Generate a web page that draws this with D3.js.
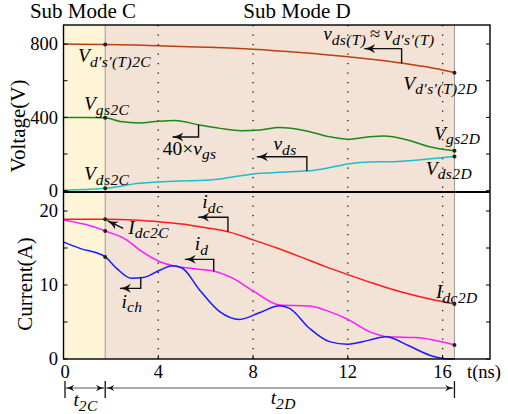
<!DOCTYPE html>
<html><head><meta charset="utf-8">
<script src="https://cdn.jsdelivr.net/npm/d3@7/dist/d3.min.js"></script>
<style>body{margin:0;background:#fff}svg{display:block}text{font-family:"Liberation Serif",serif}</style>
</head><body><svg id="c" width="508" height="414"></svg>
<script>
// ---------- data ----------
const xTicks = [0, 4, 8, 12, 16];
const vTicksMajor = [0, 400, 800];
const vTicksMinor = [200, 600];
const iTicksMajor = [0, 10, 20];
const iTicksMinor = [5, 15];
const tModeC = 1.76, tEnd = 16.5;

const tVdsT = [0, 1.76, 3, 4, 6, 8, 10, 12, 13, 14, 15, 16, 16.5];
const vVdsT = [800, 798, 795, 791, 783, 772, 754, 731, 717, 701, 682, 659, 644];

const tVgs = [0, 1.0, 1.76, 2.4, 3.2, 4.0, 4.7, 5.75, 6.6, 7.5, 8.3, 9.1, 9.6, 10.4, 11.2, 12.0, 12.9, 13.5, 14.6, 15.4, 16.5];
const vVgs = [400, 400, 398, 378, 370, 379, 383, 358, 340, 327, 331, 345, 341, 322, 295, 281, 294, 298, 274, 241, 218];

const tVds = [0, 0.9, 1.76, 3.2, 4.9, 5.75, 6.6, 7.4, 8.3, 9.1, 10.0, 10.4, 11.2, 12.0, 12.9, 13.75, 14.6, 15.4, 16.5];
const vVds = [2, 7, 13, 40, 53, 55, 64, 80, 95, 100, 106, 109, 125, 146, 157, 158, 164, 173, 186];

const tIdc = [0, 1.76, 3, 4, 5, 6, 7, 8, 9, 10, 11, 12, 13, 14, 15, 16, 16.5];
const iIdc = [18.9, 18.9, 18.8, 18.55, 18.25, 17.75, 17.15, 16.1, 15.0, 13.8, 12.55, 11.4, 10.3, 9.3, 8.45, 7.75, 7.45];

const tId = [0, 0.9, 1.76, 2.66, 3.22, 4.06, 4.62, 5.47, 6.31, 7.15, 8.0, 9.12, 10.38, 11.22, 12, 12.9, 13.75, 14.87, 16.5];
const iId = [18.8, 18.2, 17.3, 16.1, 14.7, 13.15, 12.6, 12.2, 11.9, 10.9, 9.2, 7.3, 7.15, 6.4, 5.35, 3.7, 3.0, 2.9, 1.9];

const tIch = [0, 0.69, 1.76, 2.24, 2.87, 3.36, 4.06, 4.6, 5.0, 5.75, 6.59, 7.43, 8.27, 9.12, 9.54, 10.38, 11.22, 12, 12.9, 13.6, 14.6, 15.43, 16.1, 16.5];
const iIch = [15.8, 14.95, 13.8, 12.25, 10.9, 11.0, 12.0, 12.6, 12.3, 9.3, 6.4, 5.35, 6.25, 7.2, 6.85, 4.15, 2.35, 2.0, 2.55, 3.0, 1.75, 0.55, 0.05, 0];

// ---------- layout ----------
const svg = d3.select("#c");
const L = 63.5, R = 490, T = 25, M = 192, B = 359;
const x = d3.scaleLinear().domain([0, 18]).range([L, R]);
const yV = d3.scaleLinear().domain([-7.1, 904]).range([M, T]);
const yI = d3.scaleLinear().domain([0, 22.57]).range([B, M]);

const defs = svg.append("defs");
defs.append("marker").attr("id", "ah").attr("viewBox", "0 -5 12 10")
  .attr("refX", 11).attr("refY", 0).attr("markerWidth", 12).attr("markerHeight", 10)
  .attr("markerUnits", "userSpaceOnUse").attr("orient", "auto")
  .append("path").attr("d", "M0,-4.5 Q5,-1 11,0 Q5,1 0,4.5 L3,0 Z").attr("fill", "#111");
defs.append("marker").attr("id", "ahs").attr("viewBox", "0 -5 12 10")
  .attr("refX", 11).attr("refY", 0).attr("markerWidth", 9).attr("markerHeight", 8)
  .attr("markerUnits", "userSpaceOnUse").attr("orient", "auto-start-reverse")
  .append("path").attr("d", "M0,-4.5 Q5,-1 11,0 Q5,1 0,4.5 L3,0 Z").attr("fill", "#111");

// backgrounds
[[yV, T, M], [yI, M, B]].forEach(([ys, top, bot]) => {
  svg.append("rect").attr("x", x(0)).attr("y", top).attr("width", x(tModeC) - x(0)).attr("height", bot - top).attr("fill", "#fef4d7");
  svg.append("rect").attr("x", x(tModeC)).attr("y", top).attr("width", x(tEnd) - x(tModeC)).attr("height", bot - top).attr("fill", "#f2e3d6");
});
// gray boundaries
[tModeC, tEnd].forEach(t => svg.append("line").attr("x1", x(t)).attr("x2", x(t)).attr("y1", T).attr("y2", B).attr("stroke", "#9a9a9a").attr("stroke-width", 1));
// dotted grid
xTicks.filter(t => t > 0).forEach(t => svg.append("line").attr("x1", x(t)).attr("x2", x(t)).attr("y1", T).attr("y2", B)
  .attr("stroke", "#111").attr("stroke-width", 1.3).attr("stroke-dasharray", "1.3,8.2"));

// curves
const mk = (ts, vs) => ts.map((t, i) => [t, vs[i]]);
function curve(data, ys, color) {
  svg.append("path").datum(data).attr("fill", "none").attr("stroke", color).attr("stroke-width", 1.5)
    .attr("d", d3.line().x(d => x(d[0])).y(d => ys(d[1])).curve(d3.curveMonotoneX));
}
const sVdsT = mk(tVdsT, vVdsT), sVgs = mk(tVgs, vVgs), sVds = mk(tVds, vVds);
const sIdc = mk(tIdc, iIdc), sId = mk(tId, iId), sIch = mk(tIch, iIch);
curve(sVdsT, yV, "#b8410f");
curve(sVgs, yV, "#1a8a1a");
curve(sVds, yV, "#17c0cc");
curve(sIdc, yI, "#ff1a1a");
curve(sId, yI, "#ff1aff");
curve(sIch, yI, "#1a1aff");

function at(s, t) { const ts = s.map(d => d[0]), vs = s.map(d => d[1]); const i = d3.bisectLeft(ts, t); if (i <= 0) return vs[0]; if (i >= ts.length) return vs[vs.length-1]; const f = (t - ts[i-1]) / (ts[i] - ts[i-1]); return vs[i-1] + f * (vs[i] - vs[i-1]); }

// dots
[[sVdsT, yV], [sVgs, yV], [sVds, yV], [sIdc, yI], [sId, yI], [sIch, yI]].forEach(([s, ys], k) => {
  [tModeC, tEnd].forEach(t => {
    if (k === 5 && t === tEnd) return;
    svg.append("circle").attr("cx", x(t)).attr("cy", ys(at(s, t))).attr("r", 2).attr("fill", "#222");
  });
});

// frames
svg.append("rect").attr("x", L).attr("y", T).attr("width", R - L).attr("height", B - T).attr("fill", "none").attr("stroke", "#000").attr("stroke-width", 1.4);
svg.append("line").attr("x1", L).attr("x2", R).attr("y1", M).attr("y2", M).attr("stroke", "#000").attr("stroke-width", 2.2);

// ticks
const tk = 4;
function yTicks(ys, maj, min) {
  maj.concat(min).forEach(v => {
    svg.append("line").attr("x1", L).attr("x2", L + tk).attr("y1", ys(v)).attr("y2", ys(v)).attr("stroke", "#000");
    svg.append("line").attr("x1", R).attr("x2", R - tk).attr("y1", ys(v)).attr("y2", ys(v)).attr("stroke", "#000");
  });
  maj.forEach(v => svg.append("text").attr("x", 58).attr("y", ys(v)).attr("dy", "0.34em").attr("text-anchor", "end").attr("font-size", 18.5).text(v));
}
yTicks(yV, vTicksMajor, vTicksMinor);
yTicks(yI, iTicksMajor, iTicksMinor);
xTicks.forEach(t => {
  svg.append("line").attr("x1", x(t)).attr("x2", x(t)).attr("y1", B).attr("y2", B - tk).attr("stroke", "#000");
  svg.append("text").attr("x", x(t) + (t === 0 ? 1.5 : 0)).attr("y", 378).attr("text-anchor", "middle").attr("font-size", 18.5).text(t);
});
svg.append("text").attr("x", 467).attr("y", 378).attr("font-size", 18.5).text("t(ns)");

// axis titles
svg.append("text").attr("transform", "translate(25,126) rotate(-90)").attr("text-anchor", "middle").attr("font-size", 21).text("Voltage(V)");
svg.append("text").attr("transform", "translate(32,284) rotate(-90)").attr("text-anchor", "middle").attr("font-size", 21).text("Current(A)");
// mode titles
svg.append("text").attr("x", 83).attr("y", 18).attr("text-anchor", "middle").attr("font-size", 21).text("Sub Mode C");
svg.append("text").attr("x", 297).attr("y", 18).attr("text-anchor", "middle").attr("font-size", 21).text("Sub Mode D");

// math labels
function mlab(px, py, parts, size) {
  const t = svg.append("text").attr("x", px).attr("y", py).attr("font-size", size || 19.5);
  let shifted = false;
  parts.forEach(p => {
    const sp = t.append("tspan").text(p[0]);
    if (p[1] === "sub") { sp.attr("font-size", 15.5).attr("font-style", "italic").attr("letter-spacing", 0.4); if (!shifted) { sp.attr("dy", 4.5); shifted = true; } }
    else { if (shifted) { sp.attr("dy", -4.5); shifted = false; } if (p[1] === "i") sp.attr("font-style", "italic"); }
  });
  return t;
}
mlab(x(0.61), yV(702), [["V", "i"], ["d′s′(T)2C", "sub"]]);
mlab(x(0.86), yV(440), [["V", "i"], ["gs2C", "sub"]]);
mlab(x(0.86), yV(58), [["V", "i"], ["ds2C", "sub"]]);
mlab(x(4.19), yV(195), [["40×", "r"], ["v", "i"], ["gs", "sub"]]);
mlab(x(8.86), yV(222), [["v", "i"], ["ds", "sub"]]);
mlab(x(10.97), yV(820), [["v", "i"], ["ds(T)", "sub"], ["\u2009≈\u2009", "r"], ["v", "i"], ["d′s′(T)", "sub"]], 18.5);
mlab(x(14.34), yV(552), [["V", "i"], ["d′s′(T)2D", "sub"]]);
mlab(x(15.64), yV(277), [["V", "i"], ["gs2D", "sub"]]);
mlab(x(15.29), yV(86), [["V", "i"], ["ds2D", "sub"]]);
mlab(x(2.73), yI(16.9), [["I", "i"], ["dc2C", "sub"]]);
mlab(x(5.86), yI(20.36), [["i", "i"], ["dc", "sub"]]);
mlab(x(5.54), yI(14.73), [["i", "i"], ["d", "sub"]]);
mlab(x(2.45), yI(6.9), [["i", "i"], ["ch", "sub"]]);
mlab(x(15.72), yI(8.2), [["I", "i"], ["dc2D", "sub"]]);

// elbow arrows: [series, scale, t start, bend value, t end]
function elbow(s, ys, t0, vb, t1) {
  svg.append("path").attr("fill", "none").attr("stroke", "#111").attr("stroke-width", 1.4)
    .attr("d", `M${x(t0)},${ys(at(s, t0))} V${ys(vb)} H${x(t1)}`).attr("marker-end", "url(#ah)");
}
elbow(sVgs, yV, 5.7, 293, 4.6);
elbow(sVds, yV, 10.27, 185.5, 8.16);
elbow(sVdsT, yV, 14.27, 775, 12.69);
elbow(sIdc, yI, 6.94, 19.15, 5.68);
elbow(sId, yI, 6.34, 13.47, 5.12);
elbow(sIch, yI, 3.26, 9.55, 2.38);
svg.append("line").attr("x1", x(2.52)).attr("y1", yI(17.66)).attr("x2", x(1.85)).attr("y2", yI(18.7))
  .attr("stroke", "#111").attr("stroke-width", 1.4).attr("marker-end", "url(#ah)");

// dimension arrows
const dy = 388;
[0, tModeC, tEnd].forEach(t => svg.append("line").attr("x1", x(t) + (t === 0 ? 1.5 : 0)).attr("x2", x(t) + (t === 0 ? 1.5 : 0)).attr("y1", 381).attr("y2", 398).attr("stroke", "#111").attr("stroke-width", 1.3));
[[0, tModeC], [tModeC, tEnd]].forEach(([a, b]) => svg.append("line")
  .attr("x1", x(a) + (a === 0 ? 1.5 : 0) + 1).attr("x2", x(b) - 1).attr("y1", dy).attr("y2", dy)
  .attr("stroke", "#555").attr("stroke-width", 1).attr("marker-start", "url(#ahs)").attr("marker-end", "url(#ahs)"));
mlab(x(0.42), 406, [["t", "i"], ["2C", "sub"]]);
mlab(x(9.25) - 12, 404, [["t", "i"], ["2D", "sub"]]);
</script></body></html>
